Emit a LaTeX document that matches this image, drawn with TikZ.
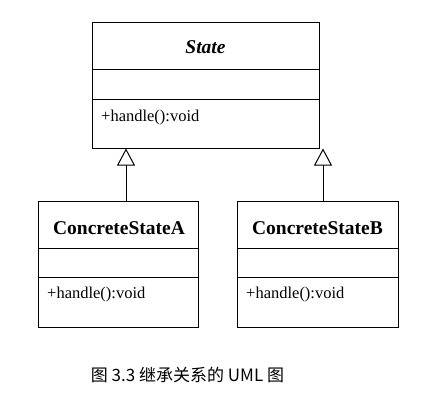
\documentclass[tikz,border=0pt]{standalone}
\usepackage{fontspec}
\setmainfont{Liberation Serif}
\newfontfamily\cjk{Noto Sans CJK SC}
\usetikzlibrary{arrows.meta}
\tikzset{
  classbox/.style={draw, line width=1pt, inner sep=0pt},
  cname/.style={font=\fontsize{19.5}{22}\selectfont\bfseries, inner sep=0pt},
  meth/.style={font=\fontsize{16.5}{19}\selectfont, inner sep=0pt, anchor=west},
  divider/.style={line width=1pt},
  inherit/.style={line width=1pt, -{Triangle[open, length=17pt, width=18pt, line width=1pt]}},
  caption/.style={font=\cjk\fontsize{17}{20}\selectfont, inner sep=0pt}
}
\begin{document}
\begin{tikzpicture}[x=1pt, y=-1pt]
\useasboundingbox (0,0) rectangle (430,400);
% State
\node[classbox, minimum width=227pt, minimum height=126pt] (state) at (205.5,85) {};
\draw[divider] (92,69) -- (319,69);
\draw[divider] (92,99) -- (319,99);
\node[cname, font=\fontsize{19.5}{22}\selectfont\bfseries\itshape] (statename) at (205.5,47) {State};
\node[meth] (statem) at (101,118) {+handle():void};
% A
\node[classbox, minimum width=160pt, minimum height=126pt] (ca) at (118,264) {};
\draw[divider] (38,248) -- (198,248);
\draw[divider] (38,277) -- (198,277);
\node[cname] (caname) at (119,228) {ConcreteStateA};
\node[meth] (cam) at (47,295) {+handle():void};
% B
\node[classbox, minimum width=161pt, minimum height=126pt] (cb) at (317.5,264) {};
\draw[divider] (237,248) -- (398,248);
\draw[divider] (237,277) -- (398,277);
\node[cname] (cbname) at (317.5,228) {ConcreteStateB};
\node[meth] (cbm) at (246,295) {+handle():void};
% inheritance
\coordinate (pa) at (126,201);
\coordinate (pb) at (323,201);
\draw[inherit] (pa) -- (pa |- state.south);
\draw[inherit] (pb) -- (pb |- state.south);
% caption
\node[caption] (cap) at (187.5,375) {图 3.3 继承关系的 UML 图};
\end{tikzpicture}
\end{document}
